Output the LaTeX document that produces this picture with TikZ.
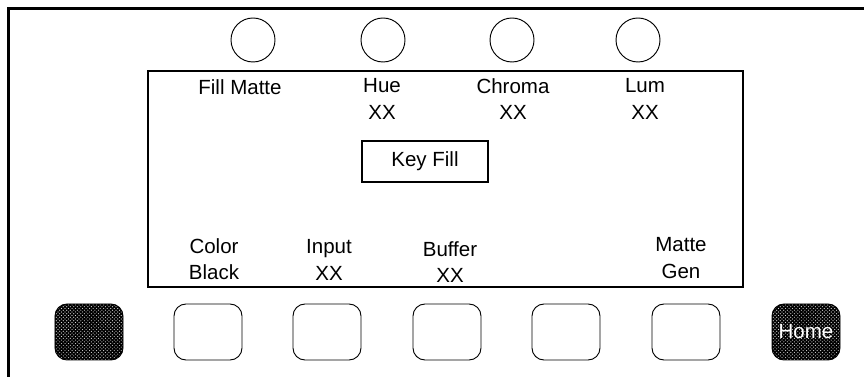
\documentclass[tikz,border=0pt]{standalone}
\usepackage{fontspec}
\setmainfont{Liberation Sans}
\usetikzlibrary{patterns}
\begin{document}
\begin{tikzpicture}[x=0.03cm, y=-0.03cm,
  knob/.style={draw, circle, line width=0.8pt, minimum size=1.32cm, inner sep=0pt},
  softkey/.style={draw, rounded corners=0.36cm, line width=0.8pt, minimum width=2.04cm, minimum height=1.68cm, inner sep=0pt},
  darkkey/.style={softkey, preaction={fill=black}, pattern=crosshatch dots, pattern color=white!85!black, text=white},
  lbl/.style={align=center, inner sep=0pt, font=\fontsize{17.5}{22.5}\selectfont}]
\useasboundingbox (0,0) rectangle (864,377);
\draw[line width=2.5pt] (8.5,377) |- (864,8.5);
\draw[line width=1.2pt] (148,71) rectangle (743,287);

\node (k1) at (253,40) [knob] {};
\node (k2) at (383,40) [knob] {};
\node (k3) at (512,40) [knob] {};
\node (k4) at (638,40) [knob] {};

\node (fill) at (240,87) [lbl] {Fill Matte};
\node (hue) at (382,99) [lbl] {Hue\\XX};
\node (chroma) at (513,99) [lbl] {Chroma\\XX};
\node (lum) at (645,99) [lbl] {Lum\\XX};

\node (key) at (425,161.5) [draw, line width=1pt, minimum width=3.78cm, minimum height=1.23cm, lbl] {Key Fill};

\node (color) at (214,259) [lbl] {Color\\Black};
\node (input) at (329,260) [lbl] {Input\\XX};
\node (buffer) at (450,262) [lbl] {Buffer\\XX};
\node (matte) at (681,258) [lbl] {Matte\\Gen};

\node (b0) at (89,332) [darkkey] {};
\foreach \i/\x in {1/208, 2/327, 3/447, 4/566, 5/686}
  \node (b\i) at (\x,332) [softkey] {};
\node (home) at (806,332) [darkkey, lbl] {Home};
\end{tikzpicture}
\end{document}
